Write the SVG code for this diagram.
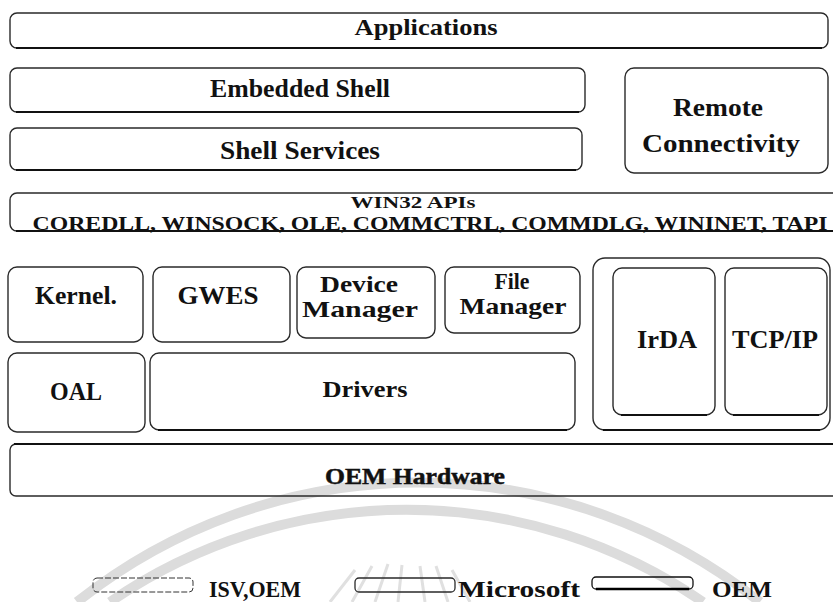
<svg xmlns="http://www.w3.org/2000/svg" width="833" height="602" viewBox="0 0 833 602">
<style>
.box{fill:none;stroke:#2a2a2a;stroke-width:1.4}
.shadow{fill:none;stroke:#111;stroke-width:2.2}
.t{font-family:"Liberation Serif","Times New Roman",serif;font-weight:bold;fill:#111;text-anchor:middle}
.wm{fill:none;stroke:#dcdcdc;stroke-width:10}
.ray{fill:none;stroke:#e0e0e0;stroke-width:3}
</style>
<rect width="833" height="602" fill="#fff"/>
<g id="watermark">
<path class="wm" d="M77,602 A548,548 0 0 1 760,602"/>
<path class="wm" d="M110,602 A523,523 0 0 1 703,602"/>
<path class="ray" d="M330,602 L355,570 M352,602 L372,566 M375,602 L388,564 M398,602 L402,565 M425,602 L420,566 M448,602 L436,566 M470,602 L452,570"/>
</g>
<g id="applications">
<rect class="box" x="10" y="13" width="818" height="35" rx="7"/>
<path class="shadow" d="M16,48 H822"/>
<text class="t" x="426" y="35" font-size="24" textLength="143" lengthAdjust="spacingAndGlyphs">Applications</text>
</g>
<g id="embedded-shell">
<rect class="box" x="10" y="68" width="575" height="44" rx="7"/>
<path class="shadow" d="M16,112 H579"/>
<text class="t" x="300" y="97" font-size="25" textLength="180" lengthAdjust="spacingAndGlyphs">Embedded Shell</text>
</g>
<g id="shell-services">
<rect class="box" x="10" y="128" width="572" height="42" rx="7"/>
<path class="shadow" d="M16,170 H576"/>
<text class="t" x="300" y="159" font-size="26" textLength="160" lengthAdjust="spacingAndGlyphs">Shell Services</text>
</g>
<g id="remote-connectivity">
<rect class="box" x="625" y="68" width="203" height="105" rx="9"/>
<text class="t" x="718" y="116" font-size="25" textLength="90" lengthAdjust="spacingAndGlyphs">Remote</text>
<text class="t" x="721" y="152" font-size="25" textLength="158" lengthAdjust="spacingAndGlyphs">Connectivity</text>
</g>
<g id="win32-apis">
<rect class="box" x="10" y="193" width="840" height="38" rx="7"/>
<path class="shadow" d="M16,231 H833"/>
<text class="t" x="413" y="208" font-size="17" textLength="125" lengthAdjust="spacingAndGlyphs">WIN32 APIs</text>
<text class="t" x="430" y="230" font-size="19" textLength="795" lengthAdjust="spacingAndGlyphs">COREDLL, WINSOCK, OLE, COMMCTRL, COMMDLG, WININET, TAPI</text>
</g>
<g id="kernel">
<rect class="box" x="8" y="267" width="135" height="75" rx="9"/>
<text class="t" x="76" y="304" font-size="25" textLength="82" lengthAdjust="spacingAndGlyphs">Kernel.</text>
</g>
<g id="gwes">
<rect class="box" x="153" y="267" width="137" height="75" rx="9"/>
<text class="t" x="218" y="304" font-size="25" textLength="81" lengthAdjust="spacingAndGlyphs">GWES</text>
</g>
<g id="device-manager">
<rect class="box" x="297" y="267" width="138" height="71" rx="9"/>
<text class="t" x="359" y="292" font-size="24" textLength="78" lengthAdjust="spacingAndGlyphs">Device</text>
<text class="t" x="360" y="317" font-size="24" textLength="116" lengthAdjust="spacingAndGlyphs">Manager</text>
</g>
<g id="file-manager">
<rect class="box" x="445" y="267" width="135" height="66" rx="9"/>
<text class="t" x="512" y="289" font-size="24" textLength="35" lengthAdjust="spacingAndGlyphs">File</text>
<text class="t" x="513" y="314" font-size="24" textLength="107" lengthAdjust="spacingAndGlyphs">Manager</text>
</g>
<g id="oal">
<rect class="box" x="8" y="353" width="137" height="79" rx="9"/>
<text class="t" x="76" y="400" font-size="25" textLength="52" lengthAdjust="spacingAndGlyphs">OAL</text>
</g>
<g id="drivers">
<rect class="box" x="150" y="353" width="425" height="77" rx="9"/>
<path class="shadow" d="M158,430 H567"/>
<text class="t" x="365" y="397" font-size="24" textLength="85" lengthAdjust="spacingAndGlyphs">Drivers</text>
</g>
<g id="network">
<rect class="box" x="593" y="258" width="237" height="172" rx="12"/>
<path class="shadow" d="M603,430 H820"/>
</g>
<g id="irda">
<rect class="box" x="613" y="268" width="102" height="147" rx="9"/>
<path class="shadow" d="M621,415 H707"/>
<text class="t" x="667" y="348" font-size="26" textLength="60" lengthAdjust="spacingAndGlyphs">IrDA</text>
</g>
<g id="tcpip">
<rect class="box" x="725" y="268" width="102" height="147" rx="9"/>
<path class="shadow" d="M733,415 H819"/>
<text class="t" x="775" y="348" font-size="26" textLength="86" lengthAdjust="spacingAndGlyphs">TCP/IP</text>
</g>
<g id="oem-hardware">
<rect class="box" x="10" y="444" width="840" height="52" rx="6"/>
<path class="shadow" d="M14,444 H833"/>
<text class="t" x="415" y="484" font-size="23" font-weight="normal" stroke="#111" stroke-width="0.5" textLength="180" lengthAdjust="spacingAndGlyphs">OEM Hardware</text>
</g>
<g id="legend">
<rect x="93" y="578" width="100" height="14" rx="4" fill="none" stroke="#333" stroke-width="1" stroke-dasharray="6 2"/>
<text class="t" x="255" y="597" font-size="24" textLength="92" lengthAdjust="spacingAndGlyphs">ISV,OEM</text>
<rect x="355" y="578" width="100" height="14" rx="4" fill="none" stroke="#2a2a2a" stroke-width="1.3"/>
<text class="t" x="519" y="597" font-size="24" textLength="122" lengthAdjust="spacingAndGlyphs">Microsoft</text>
<rect x="592" y="577" width="101" height="12" rx="4" fill="none" stroke="#111" stroke-width="1.3"/>
<path d="M596,589 H689" stroke="#000" stroke-width="2.5"/>
<text class="t" x="742" y="597" font-size="24" textLength="60" lengthAdjust="spacingAndGlyphs">OEM</text>
</g>
</svg>
